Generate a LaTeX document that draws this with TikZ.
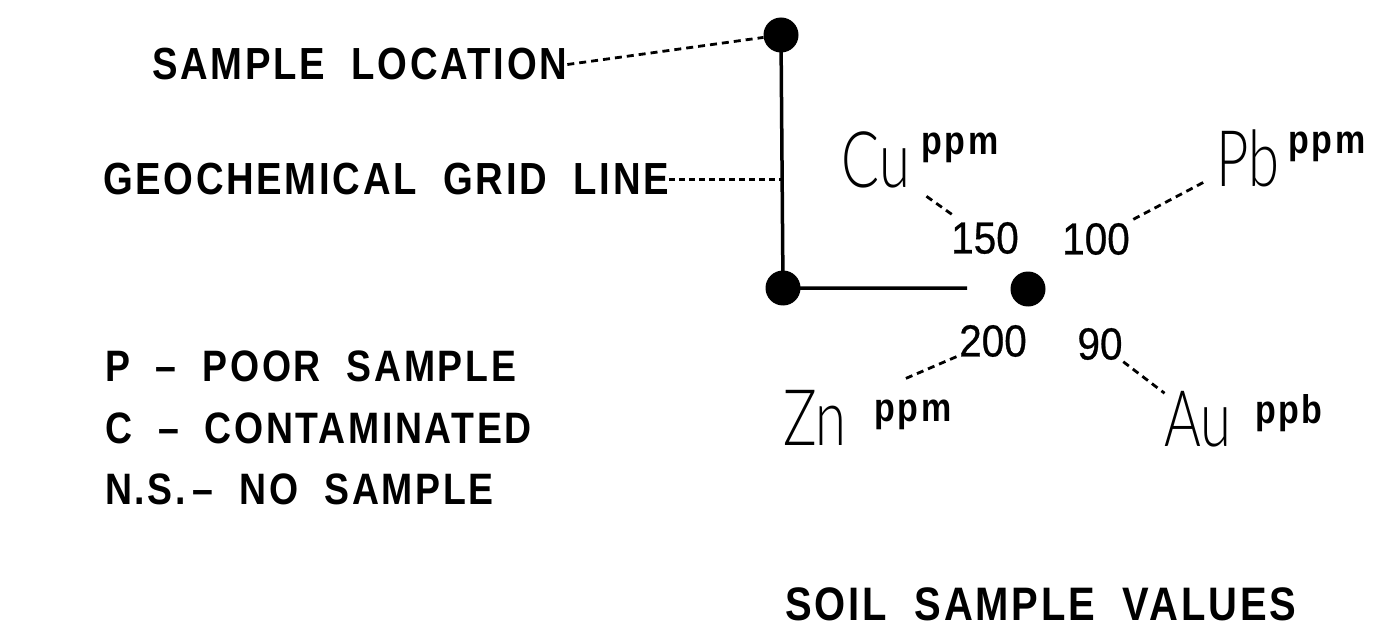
\documentclass[tikz,border=0pt]{standalone}
\usepackage{fontspec}
\usepackage{tikz}
\newfontfamily\letterfont{Liberation Sans}[FakeStretch=0.85,LetterSpace=6,WordSpace=3]
\newfontfamily\keyfont{Liberation Sans}[FakeStretch=0.85,LetterSpace=6,WordSpace=2]
\newfontfamily\numfont{Liberation Sans}[FakeStretch=0.9,FakeBold=0.6]
\IfFontExistsTF{Lato Light}
  {\newfontfamily\elemfont{Lato Light}[FakeStretch=0.72]}
  {\newfontfamily\elemfont{Liberation Sans}[FakeStretch=0.72]}

\tikzset{
  labeltext/.style={inner sep=0pt, outer sep=0pt, anchor=base west, font=\letterfont\bfseries\fontsize{45}{54}\selectfont},
  keytext/.style={labeltext, font=\keyfont\bfseries\fontsize{44}{52}\selectfont},
  elemtext/.style={inner sep=0pt, outer sep=0pt, anchor=base, font=\elemfont\fontsize{78}{90}\selectfont},
  unittext/.style={inner sep=0pt, outer sep=0pt, anchor=base, font=\letterfont\bfseries\fontsize{40}{48}\selectfont},
  valtext/.style={inner sep=0pt, outer sep=0pt, font=\numfont\fontsize{45}{54}\selectfont},
  blob/.style={circle, fill, inner sep=0pt, minimum size=35pt},
  leader/.style={line width=2.8pt, dash pattern=on 7pt off 5pt},
  gridline/.style={line width=3.5pt}
}

\begin{document}
\begin{tikzpicture}[x=1pt, y=-1pt]
\fill[white] (0,0) rectangle (1376,639);
% --- legenda a sinistra ---
\node[labeltext] (samploc) at (152,80) {SAMPLE LOCATION};
\node[labeltext] (gridlbl) at (103,195) {GEOCHEMICAL GRID LINE};
\node[keytext] (poor) at (105,381) {P \textendash\ POOR SAMPLE};
\node[keytext] (contam) at (105,443) {C \textendash\ CONTAMINATED};
\node[keytext] (nosamp) at (105,504) {N.S.\,\textendash\ NO SAMPLE};

% --- linea di griglia e punti ---
\node[blob] (topdot) at (781,35) {};
\node[blob] (cornerdot) at (783,288) {};
\node[blob] (sampdot) at (1028,289) {};
\coordinate (gridpt) at (781,175);
\coordinate (lineend) at (967,288);
\draw[gridline] (topdot.center) -- (cornerdot.center) -- (lineend);
\draw[leader] (samploc.east) -- (topdot);
\draw[leader, dash pattern=on 6pt off 4pt] (gridlbl.east) -- (gridlbl.east -| gridpt);

% --- valori del campione ---
\node[elemtext] (cu) at (876,188) {Cu};
\node[unittext] (cuunit) at (960,155) {ppm};
\node[elemtext] (pb) at (1248,187) {Pb};
\node[unittext] (pbunit) at (1327,154) {ppm};
\node[elemtext] (zn) at (815,445) {Zn};
\node[unittext] (znunit) at (913,421) {ppm};
\node[elemtext] (au) at (1198,446) {Au};
\node[unittext] (auunit) at (1289,423) {ppb};
\node[valtext] (cuval) at (985,238) {150};
\node[valtext] (pbval) at (1096,239) {100};
\node[valtext] (znval) at (993,341) {200};
\node[valtext] (auval) at (1100,344) {90};
\draw[leader, shorten <=20pt, shorten >=12pt] (cu) -- (cuval);
\draw[leader, shorten <=8pt, shorten >=12pt] (pbval) -- (pb);
\draw[leader, shorten <=3pt, shorten >=64pt] (znval) -- (zn);
\draw[leader, shorten <=3pt] (auval) -- (au);

\node[labeltext, font=\letterfont\bfseries\fontsize{47}{56}\selectfont] (title) at (785,620) {SOIL SAMPLE VALUES};
\end{tikzpicture}
\end{document}
